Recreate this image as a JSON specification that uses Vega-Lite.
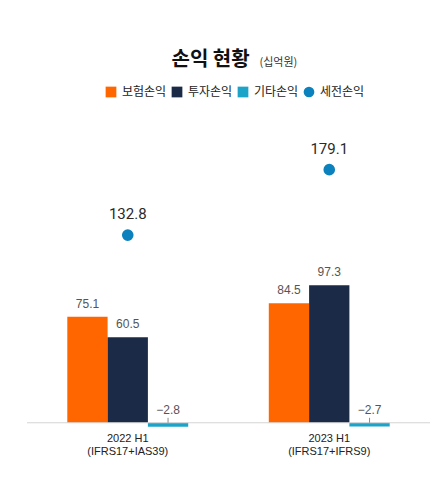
{
  "$schema": "https://vega.github.io/schema/vega-lite/v6.json",
  "width": 403,
  "height": 301,
  "autosize": {"type": "none"},
  "padding": {"left": 27, "top": 126, "right": 9, "bottom": 55},
  "background": "white",
  "view": {"stroke": null},
  "title": {
    "text": "손익 현황",
    "subtitle": "(십억원)",
    "anchor": "start",
    "align": "left",
    "dx": 233,
    "offset": 16,
    "font": "Noto Sans CJK KR",
    "fontSize": 20,
    "fontWeight": "bold",
    "color": "#111",
    "subtitleFont": "Noto Sans CJK KR",
    "subtitleFontSize": 11,
    "subtitleColor": "#333",
    "subtitlePadding": -13,
    "encoding": {"dx": {"value": 145}}
  },
  "data": {
    "values": [
      {"period": "2022 H1|(IFRS17+IAS39)", "category": "보험손익", "value": 75.1},
      {"period": "2022 H1|(IFRS17+IAS39)", "category": "투자손익", "value": 60.5},
      {"period": "2022 H1|(IFRS17+IAS39)", "category": "기타손익", "value": -2.8},
      {"period": "2022 H1|(IFRS17+IAS39)", "category": "세전손익", "value": 132.8},
      {"period": "2023 H1|(IFRS17+IFRS9)", "category": "보험손익", "value": 84.5},
      {"period": "2023 H1|(IFRS17+IFRS9)", "category": "투자손익", "value": 97.3},
      {"period": "2023 H1|(IFRS17+IFRS9)", "category": "기타손익", "value": -2.7},
      {"period": "2023 H1|(IFRS17+IFRS9)", "category": "세전손익", "value": 179.1}
    ]
  },
  "layer": [
    {
      "transform": [{"filter": "datum.category !== '세전손익'"}],
      "mark": {"type": "bar"},
      "encoding": {
        "x": {
          "field": "period",
          "type": "nominal",
          "scale": {"paddingInner": 0, "paddingOuter": 0},
          "axis": {
            "title": null,
            "domain": false,
            "ticks": false,
            "labelAngle": 0,
            "labelPadding": 5,
            "labelBaseline": "top",
            "labelLineHeight": 13,
            "labelFont": "Liberation Sans",
            "labelFontSize": 11,
            "labelColor": "#222",
            "labelExpr": "split(datum.value, '|')"
          }
        },
        "xOffset": {
          "field": "category",
          "type": "nominal",
          "scale": {"domain": ["보험손익", "투자손익", "기타손익"], "paddingInner": 0, "paddingOuter": 1.083}
        },
        "y": {"field": "value", "type": "quantitative", "scale": {"domain": [-3, 210], "nice": false}, "axis": null},
        "color": {
          "field": "category",
          "type": "nominal",
          "scale": {
            "domain": ["보험손익", "투자손익", "기타손익", "세전손익"],
            "range": ["#FF6600", "#1B2A47", "#1CA4C8", "#0B81BE"]
          },
          "legend": {
            "title": null,
            "orient": "none",
            "legendX": 78,
            "legendY": -40,
            "direction": "horizontal",
            "labelFont": "Noto Sans CJK KR",
            "labelFontSize": 12,
            "labelColor": "#222",
            "symbolSize": 115,
            "labelOffset": 5,
            "columnPadding": 4,
            "symbolStrokeWidth": 0
          }
        }
      }
    },
    {
      "transform": [{"filter": "datum.category === '세전손익' && datum.value < 150"}],
      "mark": {"type": "rule", "color": "#d4d4d4", "strokeWidth": 1},
      "encoding": {"y": {"datum": 0, "type": "quantitative", "scale": {"domain": [-3, 210], "nice": false}}}
    },
    {
      "transform": [{"filter": "datum.category !== '세전손익' && datum.value < 0"}],
      "mark": {"type": "rule", "color": "#8a8a8a", "strokeWidth": 1},
      "encoding": {
        "x": {"field": "period", "type": "nominal"},
        "xOffset": {"field": "category", "type": "nominal"},
        "y": {"datum": 0, "type": "quantitative", "scale": {"domain": [-3, 210], "nice": false}},
        "y2": {"datum": 3.5}
      }
    },
    {
      "transform": [{"filter": "datum.category !== '세전손익' && datum.value > 0"}],
      "mark": {"type": "text", "dy": -13, "font": "Liberation Sans", "fontSize": 12, "color": "#555"},
      "encoding": {
        "x": {"field": "period", "type": "nominal"},
        "xOffset": {"field": "category", "type": "nominal"},
        "y": {"field": "value", "type": "quantitative", "scale": {"domain": [-3, 210], "nice": false}},
        "text": {"field": "value", "type": "quantitative", "format": ".1f"}
      }
    },
    {
      "transform": [{"filter": "datum.category !== '세전손익' && datum.value < 0"}],
      "mark": {"type": "text", "dy": -13, "font": "Liberation Sans", "fontSize": 12, "color": "#555"},
      "encoding": {
        "x": {"field": "period", "type": "nominal"},
        "xOffset": {"field": "category", "type": "nominal"},
        "y": {"datum": 0, "type": "quantitative", "scale": {"domain": [-3, 210], "nice": false}},
        "text": {"field": "value", "type": "quantitative", "format": ".1f"}
      }
    },
    {
      "transform": [{"filter": "datum.category === '세전손익'"}],
      "mark": {"type": "point", "filled": true, "opacity": 1, "size": 135},
      "encoding": {
        "x": {"field": "period", "type": "nominal"},
        "y": {"field": "value", "type": "quantitative", "scale": {"domain": [-3, 210], "nice": false}},
        "color": {"field": "category", "type": "nominal"},
        "shape": {
          "field": "category",
          "type": "nominal",
          "scale": {
            "domain": ["보험손익", "투자손익", "기타손익", "세전손익"],
            "range": ["square", "square", "square", "circle"]
          }
        }
      }
    },
    {
      "transform": [{"filter": "datum.category === '세전손익'"}],
      "mark": {"type": "text", "dy": -21, "font": "Roboto", "fontSize": 15, "color": "#2a2a2a"},
      "encoding": {
        "x": {"field": "period", "type": "nominal"},
        "y": {"field": "value", "type": "quantitative", "scale": {"domain": [-3, 210], "nice": false}},
        "text": {"field": "value", "type": "quantitative", "format": ".1f"}
      }
    }
  ]
}
